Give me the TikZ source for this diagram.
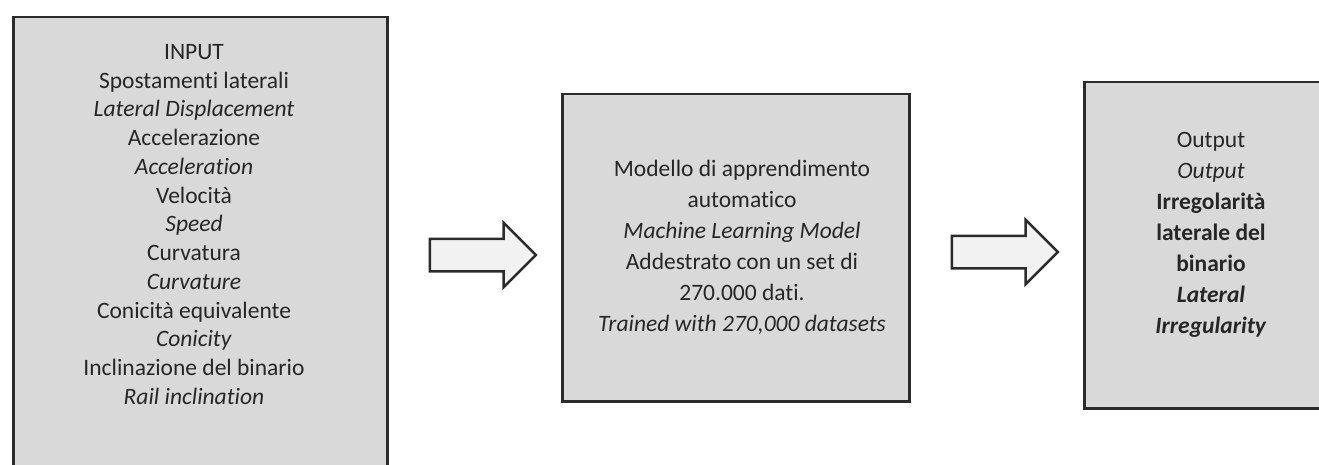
\documentclass[tikz,border=0pt]{standalone}
\usepackage{fontspec}
\setmainfont{Carlito}[Ligatures=NoCommon]
\usepackage{tikz}
\usetikzlibrary{positioning,calc}
\usetikzlibrary{shapes.arrows}
\definecolor{panelfill}{HTML}{D9D9D9}
\definecolor{arrowfill}{HTML}{F2F2F2}
\definecolor{edgegray}{HTML}{2B2B2B}
\definecolor{inkgray}{HTML}{262626}

\begin{document}
\begin{tikzpicture}[
		x=1pt, y=-1pt,
		Panel/.style={draw=edgegray,line width=2.5pt,fill=panelfill,anchor=north west,inner sep=0pt},
		PanelText/.style={align=center,text=inkgray,inner sep=0pt},
		FatArrow/.style={single arrow,draw=edgegray,line width=2.5pt,fill=arrowfill,inner sep=0pt,
			text height=15pt,text depth=15pt,text width=0pt,minimum height=106,single arrow head extend=16pt}
		]
		\useasboundingbox (0,0) rectangle (1319,465);
		\clip (0,0) rectangle (1319,465);
		
		% the three panels
		\node[Panel,minimum width=374,minimum height=475] (inpanel) at (12,16) {};
		\node[Panel,minimum width=347,minimum height=307] (mlpanel) at (561,93) {};
		\node[Panel,minimum width=270,minimum height=326] (outpanel) at (1083,81) {};
		
		\node[PanelText,font=\fontsize{23.5}{28.75}\selectfont] (intext) at (194,224.5)
		{INPUT\\ Spostamenti laterali\\ \textit{Lateral Displacement}\\ Accelerazione\\ \textit{Acceleration}\\
			Velocità\\ \textit{Speed}\\ Curvatura\\ \textit{Curvature}\\ Conicità equivalente\\ \textit{Conicity}\\
			Inclinazione del binario\\ \textit{Rail inclination}};
		
		\node[PanelText,font=\fontsize{23.5}{31}\selectfont] (mltext) at (742,247)
		{Modello di apprendimento\\ automatico\\ \textit{Machine Learning Model}\\ Addestrato con un set di\\
			270.000 dati.\\ \textit{Trained with 270,000 datasets}};
		
		\node[PanelText,font=\fontsize{23.5}{31}\selectfont] (outtext) at (1211,235)
		{Output\\ \textit{Output}\\ \textbf{Irregolarità}\\ \textbf{laterale del}\\ \textbf{binario}\\
			\textbf{\textit{Lateral}}\\ \textbf{\textit{Irregularity}}};
		
		% block arrows between the panels
		\coordinate (gapA) at ($(inpanel.east)!0.5!(mlpanel.west)$);
		\coordinate (gapB) at ($(mlpanel.east)!0.5!(outpanel.west)$);
		\node[FatArrow] (arrowA) at (gapA |- 0,255) {};
		\node[FatArrow] (arrowB) at (gapB |- 0,252) {};
		
	\end{tikzpicture}
\end{document}
